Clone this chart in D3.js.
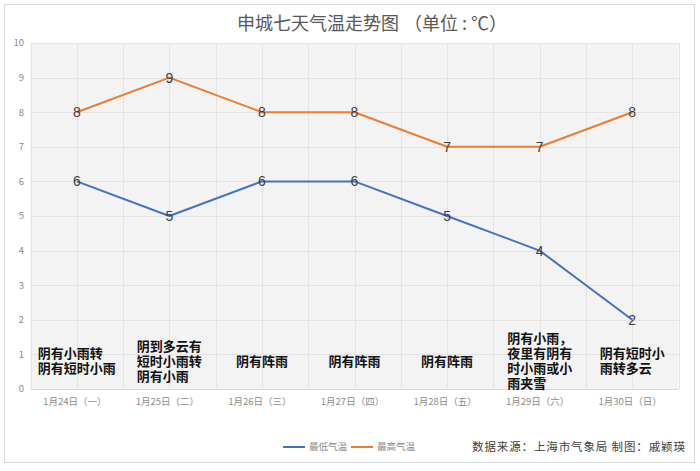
<!DOCTYPE html>
<html><head><meta charset="utf-8">
<script src="https://cdnjs.cloudflare.com/ajax/libs/d3/7.8.5/d3.min.js"></script>
<style>body{margin:0;background:#fff;}svg{display:block;}</style>
</head><body>
<svg id="c" width="700" height="471"></svg>
<script>
const categories = ["1月24日（一）","1月25日（二）","1月26日（三）","1月27日（四）","1月28日（五）","1月29日（六）","1月30日（日）"];
const lowTemps = [6,5,6,6,5,4,2];
const highTemps = [8,9,8,8,7,7,8];
const weatherText = [
  ["阴有小雨转","阴有短时小雨"],
  ["阴到多云有","短时小雨转","阴有小雨"],
  ["阴有阵雨"],
  ["阴有阵雨"],
  ["阴有阵雨"],
  ["阴有小雨，","夜里有阴有","时小雨或小","雨夹雪"],
  ["阴有短时小","雨转多云"]
];
const yTicks = [0,1,2,3,4,5,6,7,8,9,10];
const seriesNames = ["最低气温","最高气温"];
const titleMain = "申城七天气温走势图";
const titleUnit = "（单位 : ℃）";
const source = "数据来源：上海市气象局  制图：戚颖瑛";

const svg = d3.select("#c");
const cjk = "'Noto Sans CJK SC','Noto Sans',sans-serif";
const colors = ["#4472C4","#ED7D31"];

// outer border
svg.append("rect").attr("x",4.5).attr("y",4.5).attr("width",690).attr("height",458)
  .attr("fill","#fff").attr("stroke","#d9d9d9");

const x = d3.scaleBand().domain(categories).range([30.5,678.5]);
const y = d3.scaleLinear().domain([0,10]).range([389,43]);

// plot bg
svg.append("rect").attr("x",x.range()[0]).attr("y",y(10)).attr("width",x.range()[1]-x.range()[0])
  .attr("height",y(0)-y(10)).attr("fill","#f3f3f3");

// grid
const g = svg.append("g");
g.selectAll("line.h").data(yTicks).join("line")
  .attr("x1",x.range()[0]).attr("x2",x.range()[1])
  .attr("y1",d=>Math.round(y(d))+0.5).attr("y2",d=>Math.round(y(d))+0.5)
  .attr("stroke",d=>d===0?"#d9d9d9":"#e3e3e3");
const vpos = [];
categories.forEach(c=>{vpos.push(x(c)); vpos.push(x(c)+x.bandwidth()/2);});
vpos.push(x.range()[1]);
g.selectAll("line.v").data(vpos).join("line")
  .attr("x1",d=>Math.round(d)+0.5).attr("x2",d=>Math.round(d)+0.5)
  .attr("y1",y(10)).attr("y2",y(0)).attr("stroke","#e3e3e3");

// y axis labels
svg.append("g").selectAll("text").data(yTicks).join("text")
  .attr("x",24).attr("y",d=>y(d)).attr("dy","0.35em").attr("text-anchor","end")
  .attr("font-family",cjk).attr("font-size",9.5).attr("fill","#8c8c8c").text(d=>d);

// x labels
svg.append("g").selectAll("text").data(categories).join("text")
  .attr("x",d=>x(d)+x.bandwidth()/2-2).attr("y",402).attr("dy","0.35em").attr("text-anchor","middle")
  .attr("font-family",cjk).attr("font-size",9.5).attr("fill","#8c8c8c").text(d=>d);

// weather text
const fs = 13, lh = 15;
weatherText.forEach((lines,i)=>{
  const cx = x(categories[i]) + x.bandwidth()/2;
  const w = d3.max(lines, l=>l.length)*fs;
  const top = 361 - lines.length*lh/2;
  lines.forEach((l,j)=>{
    svg.append("text").attr("font-family",cjk).attr("font-size",fs).attr("font-weight","bold")
      .attr("fill","#111").attr("x",cx-w/2).attr("y",top+j*lh+lh/2).attr("dy","0.36em").text(l);
  });
});

// lines
const series = [lowTemps, highTemps];
const line = d3.line().x((d,i)=>x(categories[i])+x.bandwidth()/2).y(d=>y(d));
series.forEach((s,k)=>{
  svg.append("path").datum(s).attr("d",line).attr("fill","none")
    .attr("stroke",colors[k]).attr("stroke-width",2).attr("stroke-linejoin","round");
});
series.forEach((s,k)=>{
  svg.append("g").selectAll("text").data(s).join("text")
    .attr("x",(d,i)=>x(categories[i])+x.bandwidth()/2).attr("y",d=>y(d)).attr("dy","0.36em")
    .attr("text-anchor","middle").attr("font-family","'Liberation Sans',sans-serif").attr("font-size",14)
    .attr("fill","#404040").text(d=>d);
});

// title
svg.append("text").attr("x",237).attr("y",30)
  .attr("font-family",cjk).attr("font-size",18).attr("fill","#595959").text(titleMain);
svg.append("text").attr("x",507).attr("y",30).attr("text-anchor","end")
  .attr("font-family",cjk).attr("font-size",18).attr("fill","#595959").text(titleUnit);

// legend
const lg = svg.append("g");
seriesNames.forEach((n,k)=>{
  const lx = 283 + k*68;
  lg.append("line").attr("x1",lx).attr("x2",lx+22).attr("y1",447).attr("y2",447)
    .attr("stroke",colors[k]).attr("stroke-width",2);
  lg.append("text").attr("x",lx+26).attr("y",447).attr("dy","0.35em")
    .attr("font-family",cjk).attr("font-size",9.5).attr("fill","#8c8c8c").text(n);
});

// source
svg.append("text").attr("x",472).attr("y",447).attr("dy","0.35em")
  .attr("font-family",cjk).attr("font-size",11.5).attr("fill","#404040")
  .attr("textLength",213).attr("lengthAdjust","spacing").text(source);
</script>
</body></html>
